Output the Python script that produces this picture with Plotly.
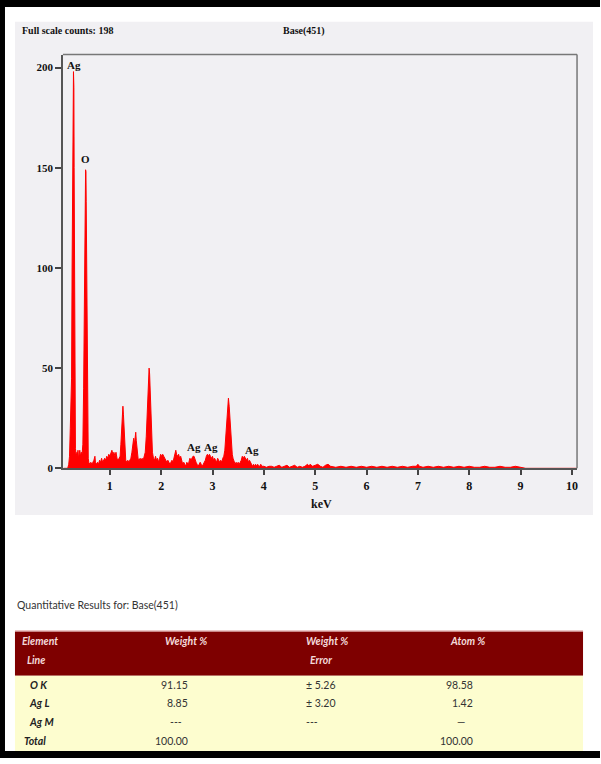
import plotly.graph_objects as go

W, H = 601, 764

# ---------------- data ----------------
energy_kev = [0.10, 0.18, 0.20, 0.215, 0.23, 0.24, 0.255, 0.265, 0.275, 0.285, 0.292, 0.300, 0.305, 0.312, 0.32, 0.33,
              0.345, 0.36, 0.37, 0.38, 0.39, 0.40, 0.415, 0.43, 0.445, 0.46, 0.475, 0.49, 0.50, 0.51, 0.52, 0.528,
              0.535, 0.54, 0.55, 0.56, 0.57, 0.58, 0.59, 0.61, 0.63, 0.65, 0.67, 0.69, 0.71, 0.72, 0.74, 0.76, 0.78,
              0.80, 0.82, 0.84, 0.86, 0.88, 0.90, 0.92, 0.94, 0.96, 0.98, 1.00, 1.02, 1.04, 1.06, 1.08, 1.10, 1.12,
              1.14, 1.16, 1.18, 1.20, 1.215, 1.23, 1.245, 1.255, 1.265, 1.28, 1.295, 1.31, 1.33, 1.35, 1.37, 1.39,
              1.41, 1.43, 1.45, 1.465, 1.48, 1.495, 1.505, 1.515, 1.53, 1.55, 1.57, 1.59, 1.61, 1.63, 1.65, 1.67,
              1.69, 1.71, 1.725, 1.74, 1.755, 1.765, 1.775, 1.79, 1.80, 1.815, 1.83, 1.85, 1.87, 1.89, 1.91, 1.93,
              1.95, 1.97, 1.99, 2.01, 2.03, 2.05, 2.07, 2.09, 2.11, 2.13, 2.15, 2.17, 2.19, 2.21, 2.23, 2.25, 2.27,
              2.285, 2.30, 2.32, 2.34, 2.36, 2.38, 2.40, 2.42, 2.44, 2.46, 2.48, 2.50, 2.52, 2.54, 2.56, 2.58, 2.60,
              2.62, 2.64, 2.66, 2.68, 2.70, 2.72, 2.74, 2.76, 2.78, 2.80, 2.82, 2.84, 2.86, 2.88, 2.90, 2.92, 2.94,
              2.96, 2.98, 3.00, 3.02, 3.04, 3.06, 3.08, 3.10, 3.12, 3.14, 3.16, 3.18, 3.20, 3.22, 3.24, 3.255, 3.27,
              3.285, 3.30, 3.31, 3.325, 3.34, 3.355, 3.37, 3.385, 3.40, 3.42, 3.44, 3.46, 3.48, 3.50, 3.52, 3.54,
              3.56, 3.58, 3.60, 3.62, 3.64, 3.66, 3.68, 3.70, 3.72, 3.74, 3.76, 3.78, 3.80, 3.82, 3.84, 3.86, 3.88,
              3.90, 3.92, 3.94, 3.96, 3.98,
              4.00, 4.05, 4.10, 4.15, 4.20, 4.25, 4.30, 4.35, 4.40, 4.45, 4.50, 4.55, 4.60, 4.65, 4.70, 4.75, 4.80,
              4.85, 4.88, 4.90, 4.95, 5.00, 5.05, 5.10, 5.15, 5.20, 5.25, 5.30, 5.40, 5.50, 5.60, 5.70, 5.80, 5.90,
              6.00, 6.10, 6.20, 6.30, 6.40, 6.50, 6.60, 6.70, 6.80, 6.90, 6.97, 7.00, 7.03, 7.10, 7.20, 7.30, 7.40,
              7.50, 7.60, 7.70, 7.80, 7.90, 8.00, 8.10, 8.20, 8.30, 8.40, 8.50, 8.60, 8.70, 8.80, 8.90, 9.00, 9.05,
              9.10, 10.10]
counts = [0, 0, 2, 6, 20, 40, 45, 100, 142, 151, 198, 190, 150, 80, 30, 10,
          6, 8, 7, 9, 5, 7, 9, 6, 8, 7, 12, 40, 66, 100, 133, 149,
          148, 133, 90, 40, 12, 5, 3, 2, 3, 2, 3, 4, 6, 3, 2, 3, 2,
          4, 3, 5, 3, 4, 5, 4, 6, 5, 7, 6, 8, 9, 7, 8, 6, 8,
          5, 4, 5, 6, 12, 22, 30, 31, 27, 16, 8, 4, 3, 4, 3, 4,
          5, 8, 14, 15, 12, 16, 18, 14, 8, 5, 4, 5, 4, 5, 4, 6,
          8, 16, 28, 40, 48, 50, 47, 35, 22, 13, 8, 5, 4, 6, 4, 5,
          3, 5, 7, 6, 7, 6, 5, 4, 3, 4, 3, 2, 3, 4, 3, 6, 8,
          9, 7, 6, 7, 5, 6, 4, 2, 3, 2, 1, 3, 2, 3, 5, 4, 5,
          6, 6, 4, 3, 2, 1, 2, 3, 2, 1, 2, 3, 4, 6, 7, 6, 7,
          6, 5, 6, 4, 5, 4, 3, 5, 4, 3, 4, 3, 5, 6, 9, 15, 22,
          30, 34, 35, 31, 24, 16, 10, 7, 5, 3, 2, 3, 2, 3, 2, 3,
          4, 6, 5, 6, 5, 4, 5, 3, 4, 3, 2, 1, 2, 1, 2, 1, 2,
          1, 1, 2, 1, 1,
          1, 0.5, 1, 1, 0.5, 1, 1.5, 0.5, 1, 1.5, 0.5, 1, 1.5, 0.5, 1, 0.5, 1,
          2, 1, 2, 1, 1.5, 2, 1, 0.5, 1.5, 2, 1, 0.5, 1, 0.5, 1, 0.5, 1,
          0.5, 1, 0.5, 1, 0.5, 1, 0.5, 1, 0.5, 1, 1, 2, 1, 0.5, 1, 0.5, 1,
          0.5, 1, 0.5, 1, 0.5, 1, 0.5, 0.5, 1, 0.5, 0.5, 1, 0.5, 0.5, 1, 0.5, 0.5,
          0, 0]

peak_labels = ["Ag", "O", "Ag", "Ag", "Ag"]
peak_label_kev = [0.30, 0.533, 2.644, 2.98, 3.76]
peak_label_counts = [201.5, 154.5, 10.4, 10.4, 8.9]

x_ticks = [1, 2, 3, 4, 5, 6, 7, 8, 9, 10]
y_ticks = [0, 50, 100, 150, 200]

header_title = "Full scale counts: 198"
spectrum_name = "Base(451)"
x_label = "keV"

table_caption = "Quantitative Results for: Base(451)"
col_head_1 = ["Element", "Weight %", "Weight %", "Atom %"]
col_head_2 = ["Line", "", "Error", ""]
row_elements = ["O K", "Ag L", "Ag M", "Total"]
row_weight = ["91.15", "8.85", "---", "100.00"]
row_error = ["± 5.26", "± 3.20", "---", ""]
row_atom = ["98.58", "1.42", "—", "100.00"]

# ---------------- helpers ----------------
def px(x):
    return x / W

def py(y):
    return 1 - y / H

SERIF = "Liberation Serif, Times New Roman, serif"
NARROW = "Lato, Roboto, sans-serif"

fig = go.Figure()
fig.add_trace(go.Scatter(
    x=energy_kev, y=counts, mode="lines", fill="tozeroy",
    line=dict(color="#ff0000", width=1), fillcolor="#ff0000",
    hoverinfo="skip", showlegend=False))

shapes = []
annotations = []

# gray chart panel
shapes.append(dict(type="rect", xref="paper", yref="paper", x0=px(15), x1=px(594), y0=py(519), y1=py(22),
                   fillcolor="#f1f0f3", line=dict(width=0), layer="below"))
# frame top & right
shapes.append(dict(type="line", xref="x domain", yref="y domain", x0=0, x1=1, y0=1, y1=1,
                   line=dict(color="#777777", width=1.5)))
shapes.append(dict(type="line", xref="x domain", yref="y domain", x0=1, x1=1, y0=0, y1=1,
                   line=dict(color="#777777", width=1.5)))

# black borders
shapes.append(dict(type="rect", xref="paper", yref="paper", x0=0, x1=1, y0=py(7), y1=1,
                   fillcolor="black", line=dict(width=0)))
shapes.append(dict(type="rect", xref="paper", yref="paper", x0=0, x1=px(5), y0=0, y1=1,
                   fillcolor="black", line=dict(width=0)))
shapes.append(dict(type="rect", xref="paper", yref="paper", x0=0, x1=1, y0=0, y1=py(757),
                   fillcolor="black", line=dict(width=0)))

# table
shapes.append(dict(type="rect", xref="paper", yref="paper", x0=px(15), x1=px(584), y0=py(681), y1=py(636),
                   fillcolor="#7e0000", line=dict(width=0)))
shapes.append(dict(type="line", xref="paper", yref="paper", x0=px(15), x1=px(584), y0=py(636), y1=py(636),
                   line=dict(color="#e3b3b3", width=1.5)))
shapes.append(dict(type="rect", xref="paper", yref="paper", x0=px(15), x1=px(584), y0=py(757), y1=py(681),
                   fillcolor="#fdfdcf", line=dict(width=0)))

# header texts
annotations.append(dict(xref="paper", yref="paper", x=px(20), y=py(31), xanchor="left", yanchor="middle",
                        text="<b>" + header_title + "</b>", showarrow=False,
                        font=dict(family=SERIF, size=10, color="#111")))
annotations.append(dict(xref="paper", yref="paper", x=px(305), y=py(31), xanchor="center", yanchor="middle",
                        text="<b>" + spectrum_name + "</b>", showarrow=False,
                        font=dict(family=SERIF, size=10, color="#111")))
annotations.append(dict(xref="paper", yref="paper", x=px(322), y=py(508), xanchor="center", yanchor="middle",
                        text="<b>" + x_label + "</b>", showarrow=False,
                        font=dict(family=SERIF, size=12, color="#111")))

for t, xk, yc in zip(peak_labels, peak_label_kev, peak_label_counts):
    annotations.append(dict(xref="x", yref="y", x=xk, y=yc, xanchor="center", yanchor="middle",
                            text="<b>" + t + "</b>", showarrow=False,
                            font=dict(family=SERIF, size=11, color="#111")))

annotations.append(dict(xref="paper", yref="paper", x=px(15), y=py(610), xanchor="left", yanchor="middle",
                        text=table_caption, showarrow=False,
                        font=dict(family=NARROW, size=10.5, color="#333")))

col_x_head = [20, 163, 305, 449]
col_x_head2 = [25, 163, 309, 449]
for i in range(4):
    annotations.append(dict(xref="paper", yref="paper", x=px(col_x_head[i]), y=py(646), xanchor="left",
                            yanchor="middle", text="<i><b>" + col_head_1[i] + "</b></i>", showarrow=False,
                            font=dict(family=NARROW, size=10.5, color="#f3d9d9")))
    if col_head_2[i]:
        annotations.append(dict(xref="paper", yref="paper", x=px(col_x_head2[i]), y=py(665), xanchor="left",
                                yanchor="middle", text="<i><b>" + col_head_2[i] + "</b></i>", showarrow=False,
                                font=dict(family=NARROW, size=10.5, color="#f3d9d9")))

row_y = [690, 709, 728, 747]
row_label_x = [28, 27, 27, 22]
for r in range(4):
    yy = py(row_y[r])
    annotations.append(dict(xref="paper", yref="paper", x=px(row_label_x[r]), y=yy, xanchor="left",
                            yanchor="middle", text="<i><b>" + row_elements[r] + "</b></i>", showarrow=False,
                            font=dict(family=NARROW, size=10.5, color="#222")))
    for val, xr in ((row_weight[r], 190), (row_atom[r], 476)):
        is_dash = val in ("---", "—")
        annotations.append(dict(xref="paper", yref="paper", x=px(xr - 14) if is_dash else px(xr), y=yy,
                                xanchor="center" if is_dash else "right",
                                yanchor="middle", text=val, showarrow=False,
                                font=dict(family=NARROW, size=10.5, color="#333")))
    if row_error[r]:
        annotations.append(dict(xref="paper", yref="paper", x=px(305), y=yy, xanchor="left",
                                yanchor="middle", text=row_error[r], showarrow=False,
                                font=dict(family=NARROW, size=10.5, color="#333")))

fig.update_layout(
    width=W, height=H, autosize=False,
    margin=dict(l=0, r=0, t=0, b=0),
    paper_bgcolor="white", plot_bgcolor="white",
    shapes=shapes, annotations=annotations,
    xaxis=dict(domain=[px(63), px(578)], range=[0.086, 10.1], tickvals=x_ticks, ticktext=[f"<b>{v}</b>" for v in x_ticks],
               ticks="outside", ticklen=5, tickwidth=1.5, tickcolor="#444", showline=True, linecolor="#555",
               linewidth=2, showgrid=False, zeroline=False,
               tickfont=dict(family=SERIF, size=12, color="#111")),
    yaxis=dict(domain=[py(472), py(55)], range=[0, 206.5], tickvals=y_ticks, ticktext=[f"<b>{v}</b>" for v in y_ticks],
               ticks="outside", ticklen=6, tickwidth=1.5, tickcolor="#444", showline=True, linecolor="#555",
               linewidth=1.5, showgrid=False, zeroline=False,
               tickfont=dict(family=SERIF, size=11, color="#111")),
)

fig.write_html("out.html", config={"displayModeBar": False},
               post_script="document.body.style.margin='0';document.body.style.overflow='hidden';")
